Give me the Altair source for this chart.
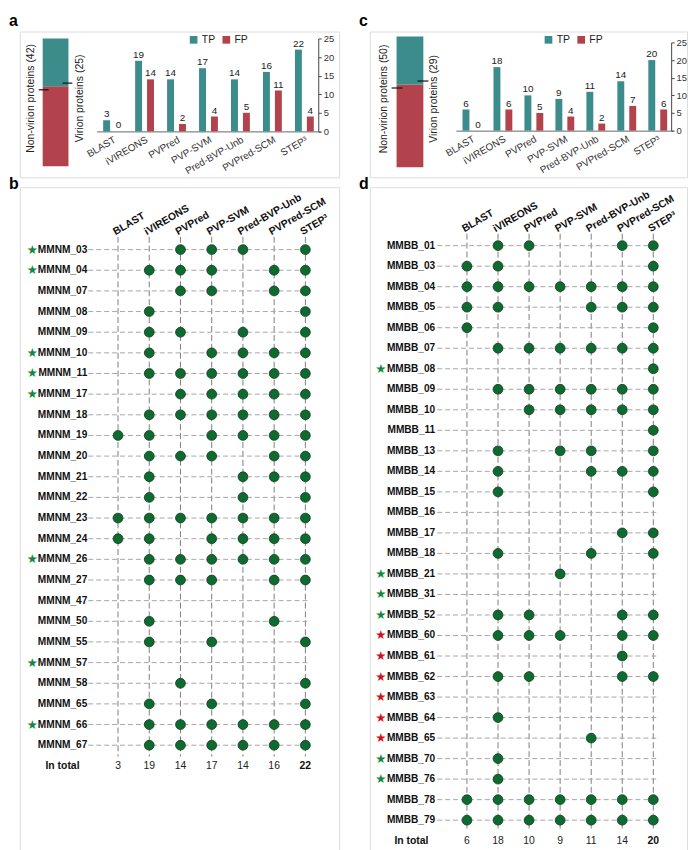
import altair as alt
import pandas as pd

# ---------------- data ----------------
methods = ["BLAST", "iVIREONS", "PVPred", "PVP-SVM", "Pred-BVP-Unb", "PVPred-SCM", "STEP³"]

a_tp = [3, 19, 14, 17, 14, 16, 22]
a_fp = [0, 14, 2, 4, 5, 11, 4]
a_virion = 25
a_nonvirion = 42

c_tp = [6, 18, 10, 9, 11, 14, 20]
c_fp = [0, 6, 5, 4, 2, 7, 6]
c_virion = 29
c_nonvirion = 50

b_rows = ["MMNM_03", "MMNM_04", "MMNM_07", "MMNM_08", "MMNM_09", "MMNM_10", "MMNM_11",
          "MMNM_17", "MMNM_18", "MMNM_19", "MMNM_20", "MMNM_21", "MMNM_22", "MMNM_23",
          "MMNM_24", "MMNM_26", "MMNM_27", "MMNM_47", "MMNM_50", "MMNM_55", "MMNM_57",
          "MMNM_58", "MMNM_65", "MMNM_66", "MMNM_67"]
b_hits = ["0011101", "0111011", "0011011", "0100001", "0110101", "0101111", "0111111",
          "0011111", "0111111", "1101111", "0111011", "0100111", "0100101", "1111111",
          "1101111", "0111111", "0111011", "0000000", "0100010", "0101001", "0000000",
          "0010001", "0101001", "0111111", "0111111"]
b_stars = ["green", "green", "", "", "", "green", "green",
           "green", "", "", "", "", "", "",
           "", "green", "", "", "", "", "green",
           "", "", "green", ""]

d_rows = ["MMBB_01", "MMBB_03", "MMBB_04", "MMBB_05", "MMBB_06", "MMBB_07", "MMBB_08",
          "MMBB_09", "MMBB_10", "MMBB_11", "MMBB_13", "MMBB_14", "MMBB_15", "MMBB_16",
          "MMBB_17", "MMBB_18", "MMBB_21", "MMBB_31", "MMBB_52", "MMBB_60", "MMBB_61",
          "MMBB_62", "MMBB_63", "MMBB_64", "MMBB_65", "MMBB_70", "MMBB_76", "MMBB_78",
          "MMBB_79"]
d_hits = ["0110011", "1100001", "1111111", "1100111", "1000001", "0111111", "0000001",
          "0111111", "0011111", "0000001", "0101101", "0100111", "0100001", "0000000",
          "0000011", "0100101", "0001000", "0000000", "0110011", "0111011", "0000010",
          "0110011", "0000000", "0100000", "0000100", "0100000", "0100000", "1111111",
          "1111111"]
d_stars = ["", "", "", "", "", "", "green",
           "", "", "", "", "", "", "",
           "", "", "green", "green", "green", "red", "red",
           "red", "red", "red", "red", "green", "green", "",
           ""]

# ---------------- style ----------------
TEAL = "#3b8c8b"
RED = "#b2434c"
DOT = "#0e6b30"
STAR_GREEN = "#12893c"
STAR_RED = "#d0121b"
FONT = "Liberation Sans"
ONE = pd.DataFrame({"k": [0]})


def bar_panel(label, tp, fp, virion, nonvirion, W, H, stack_x, stack_y,
              band_rng, y_rng, yoff, xoff, leg_x, tick_l, tick_r, lab_l, lab_r, lab_y):
    total = virion + nonvirion
    sx = alt.Scale(domain=[0, 1], range=stack_x, nice=False, zero=False)
    sy = alt.Scale(domain=[0, total], range=stack_y, nice=False, zero=False)
    stack_df = pd.DataFrame({"cls": ["Non-virion", "Virion"],
                             "lo": [0, nonvirion], "hi": [nonvirion, total]})
    stack = alt.Chart(stack_df).mark_rect().encode(
        x=alt.XDatum(0, scale=sx, axis=None),
        x2=alt.X2Datum(1),
        y=alt.Y("lo:Q", scale=sy, axis=None),
        y2="hi:Q",
        color=alt.Color("cls:N", scale=alt.Scale(domain=["Virion", "Non-virion"],
                                                 range=[TEAL, RED]), legend=None),
    )
    tl = alt.Chart(ONE).mark_rule(color="#111", strokeWidth=1.2).encode(
        x=alt.XDatum(tick_l[0], scale=sx, axis=None), x2=alt.X2Datum(tick_l[1]),
        y=alt.YDatum(tick_l[2], scale=sy, axis=None))
    tr = alt.Chart(ONE).mark_rule(color="#111", strokeWidth=1.2).encode(
        x=alt.XDatum(tick_r[0], scale=sx, axis=None), x2=alt.X2Datum(tick_r[1]),
        y=alt.YDatum(tick_r[2], scale=sy, axis=None))
    ll = alt.Chart(ONE).mark_text(angle=270, fontSize=10.5, color="#222",
                                  align="center", baseline="middle").encode(
        x=alt.XDatum(lab_l, scale=sx, axis=None),
        y=alt.YDatum(lab_y, scale=sy, axis=None),
        text=alt.value(f"Non-virion proteins ({nonvirion})"))
    lr = alt.Chart(ONE).mark_text(angle=270, fontSize=10.5, color="#222",
                                  align="center", baseline="middle").encode(
        x=alt.XDatum(lab_r, scale=sx, axis=None),
        y=alt.YDatum(lab_y, scale=sy, axis=None),
        text=alt.value(f"Virion proteins ({virion})"))
    stack_group = alt.layer(stack, tl, tr, ll, lr)

    bar_df = pd.DataFrame({"method": methods * 2,
                           "type": ["TP"] * 7 + ["FP"] * 7,
                           "v": tp + fp})
    xenc = alt.X("method:N", sort=methods,
                 scale=alt.Scale(domain=methods, range=band_rng,
                                 paddingInner=0, paddingOuter=0),
                 axis=alt.Axis(orient="bottom", offset=xoff, title=None, ticks=False,
                               labelAngle=330, labelFontSize=10, labelColor="#333",
                               labelPadding=3, domainColor="#666", grid=False))
    xo = alt.XOffset("type:N", sort=["TP", "FP"],
                     scale=alt.Scale(domain=["TP", "FP"], paddingInner=0.42,
                                     paddingOuter=0.55))
    yenc = alt.Y("v:Q", scale=alt.Scale(domain=[0, 25], range=y_rng, nice=False, zero=False),
                 axis=alt.Axis(orient="right", offset=yoff, title=None, grid=False,
                               values=[0, 5, 10, 15, 20, 25], tickSize=3,
                               labelFontSize=9.5, labelColor="#333", labelPadding=2,
                               domainColor="#444", tickColor="#444"))
    bars = alt.Chart(bar_df).mark_bar().encode(
        x=xenc, xOffset=xo, y=yenc,
        color=alt.Color("type:N",
                        scale=alt.Scale(domain=["TP", "FP"], range=[TEAL, RED]),
                        legend=alt.Legend(orient="none", legendX=leg_x, legendY=3,
                                          direction="horizontal", title=None,
                                          symbolType="square", symbolSize=60,
                                          symbolStrokeWidth=0, labelFontSize=10.5,
                                          labelOffset=3, columnPadding=6, padding=0,
                                          labelColor="#222")))
    txt = alt.Chart(bar_df).mark_text(dy=-3, baseline="alphabetic", fontSize=10,
                                      color="#222").encode(
        x=xenc, xOffset=xo, y=yenc, text="v:Q")
    bars_group = alt.layer(bars, txt)

    return alt.layer(stack_group, bars_group).resolve_scale(
        x="independent", y="independent", color="independent"
    ).properties(
        width=W, height=H,
        title=alt.TitleParams(label, anchor="start", frame="group", offset=0,
                              baseline="top", dx=-11, dy=-3, fontSize=16,
                              fontWeight="bold", color="black"))


def matrix_panel(label, rows, hits, stars, W, H, xr, yr, lab_x, star_x, tot_x,
                 head_y, vl, hl):
    n = len(rows)
    xs = alt.Scale(domain=[0, 6], range=xr, nice=False, zero=False)
    ys = alt.Scale(domain=[0, n], range=yr, nice=False, zero=False)
    row_df = pd.DataFrame({"row": rows, "i": list(range(n)), "star": stars})
    hit_df = pd.DataFrame([{"i": i, "c": j} for i, h in enumerate(hits)
                           for j, ch in enumerate(h) if ch == "1"])
    col_df = pd.DataFrame({"c": list(range(7)), "m": methods,
                           "tot": [sum(h[j] == "1" for h in hits) for j in range(7)]})

    vlines = alt.Chart(col_df).mark_rule(color="#7d7d7d", strokeDash=[6, 3],
                                         strokeWidth=1).encode(
        x=alt.X("c:Q", scale=xs, axis=None),
        y=alt.YDatum(vl[0], scale=ys, axis=None), y2=alt.Y2Datum(vl[1]))
    hlines = alt.Chart(row_df).mark_rule(color="#a6a6a6", strokeDash=[5, 3],
                                         strokeWidth=1).encode(
        y=alt.Y("i:Q", scale=ys, axis=None),
        x=alt.XDatum(hl[0], scale=xs, axis=None), x2=alt.X2Datum(hl[1]))
    dots = alt.Chart(hit_df).mark_circle(size=98, color=DOT, opacity=1,
                                         stroke="#163a1f", strokeWidth=0.8).encode(
        x=alt.X("c:Q", scale=xs, axis=None), y=alt.Y("i:Q", scale=ys, axis=None))
    labels = alt.Chart(row_df).mark_text(align="right", baseline="middle",
                                         fontWeight="bold", fontSize=10.2,
                                         color="#111").encode(
        x=alt.XDatum(lab_x, scale=xs, axis=None), y=alt.Y("i:Q", scale=ys, axis=None),
        text="row:N")
    star = alt.Chart(row_df).transform_filter("datum.star != ''").mark_text(
        align="center", baseline="middle", fontSize=12.5, font="DejaVu Sans").encode(
        x=alt.XDatum(star_x, scale=xs, axis=None), y=alt.Y("i:Q", scale=ys, axis=None),
        text=alt.value("★"),
        color=alt.Color("star:N", scale=alt.Scale(domain=["green", "red"],
                                                  range=[STAR_GREEN, STAR_RED]),
                        legend=None))
    heads = alt.Chart(col_df).mark_text(angle=330, align="left", baseline="alphabetic",
                                        fontWeight="bold", fontSize=10.5, dx=-3,
                                        color="#111").encode(
        x=alt.X("c:Q", scale=xs, axis=None),
        y=alt.YDatum(head_y, scale=ys, axis=None), text="m:N")
    tots = alt.Chart(col_df).transform_filter("datum.c < 6").mark_text(
        fontSize=10.5, baseline="middle", color="#222").encode(
        x=alt.X("c:Q", scale=xs, axis=None),
        y=alt.YDatum(n, scale=ys, axis=None), text="tot:Q")
    tot_last = alt.Chart(col_df).transform_filter("datum.c == 6").mark_text(
        fontSize=10.5, baseline="middle", fontWeight="bold", color="#111").encode(
        x=alt.X("c:Q", scale=xs, axis=None),
        y=alt.YDatum(n, scale=ys, axis=None), text="tot:Q")
    intot = alt.Chart(pd.DataFrame({"t": ["In total"]})).mark_text(
        fontSize=10.5, baseline="middle", fontWeight="bold", color="#111").encode(
        x=alt.XDatum(tot_x, scale=xs, axis=None),
        y=alt.YDatum(n, scale=ys, axis=None), text="t:N")

    return alt.layer(vlines, hlines, dots, labels, star, heads, tots, tot_last,
                     intot).properties(
        width=W, height=H,
        title=alt.TitleParams(label, anchor="start", frame="group", offset=0,
                              baseline="top", dx=-11, dy=5, fontSize=16,
                              fontWeight="bold", color="black"))


pa = bar_panel("a", a_tp, a_fp, a_virion, a_nonvirion, 322, 147,
               stack_x=[23, 49], stack_y=[136, 7], band_rng=[77.4, 303.1],
               y_rng=[100.75, 7], yoff=-21, xoff=-46.25, leg_x=170,
               tick_l=(-0.154, 0.23, 40.1), tick_r=(0.77, 1.15, 43.6),
               lab_l=-0.46, lab_r=1.46, lab_y=35.6)
pc = bar_panel("c", c_tp, c_fp, c_virion, c_nonvirion, 320, 147,
               stack_x=[27, 54], stack_y=[137, 5], band_rng=[86.9, 305.6],
               y_rng=[100, 11], yoff=-16, xoff=-47, leg_x=175,
               tick_l=(-0.185, 0.22, 47.9), tick_r=(0.78, 1.19, 52.1),
               lab_l=-0.48, lab_r=1.41, lab_y=41.3)
pb = matrix_panel("b", b_rows, b_hits, b_stars, 322, 669,
                  xr=[99, 288], yr=[63, 583.8], lab_x=-0.984, star_x=-2.746,
                  tot_x=-1.778, head_y=-0.77, vl=(-0.62, 24.55), hl=(-0.952, 6.127))
pd_ = matrix_panel("d", d_rows, d_hits, d_stars, 320, 669,
                   xr=[98, 286], yr=[59, 659.3], lab_x=-1.021, star_x=-2.777,
                   tot_x=-1.787, head_y=-0.72, vl=(-0.58, 28.45), hl=(-0.957, 6.128))

chart = alt.concat(pa, pc, pb, pd_, columns=2, spacing={"row": 10, "column": 31},
                   bounds="flush").resolve_scale(
    color="independent").resolve_legend(color="independent").properties(
    padding=0, background="white"
).configure_view(stroke="black", strokeWidth=1.8).configure(font=FONT)

chart.save("out.html", embed_options={"renderer": "svg", "actions": False})
